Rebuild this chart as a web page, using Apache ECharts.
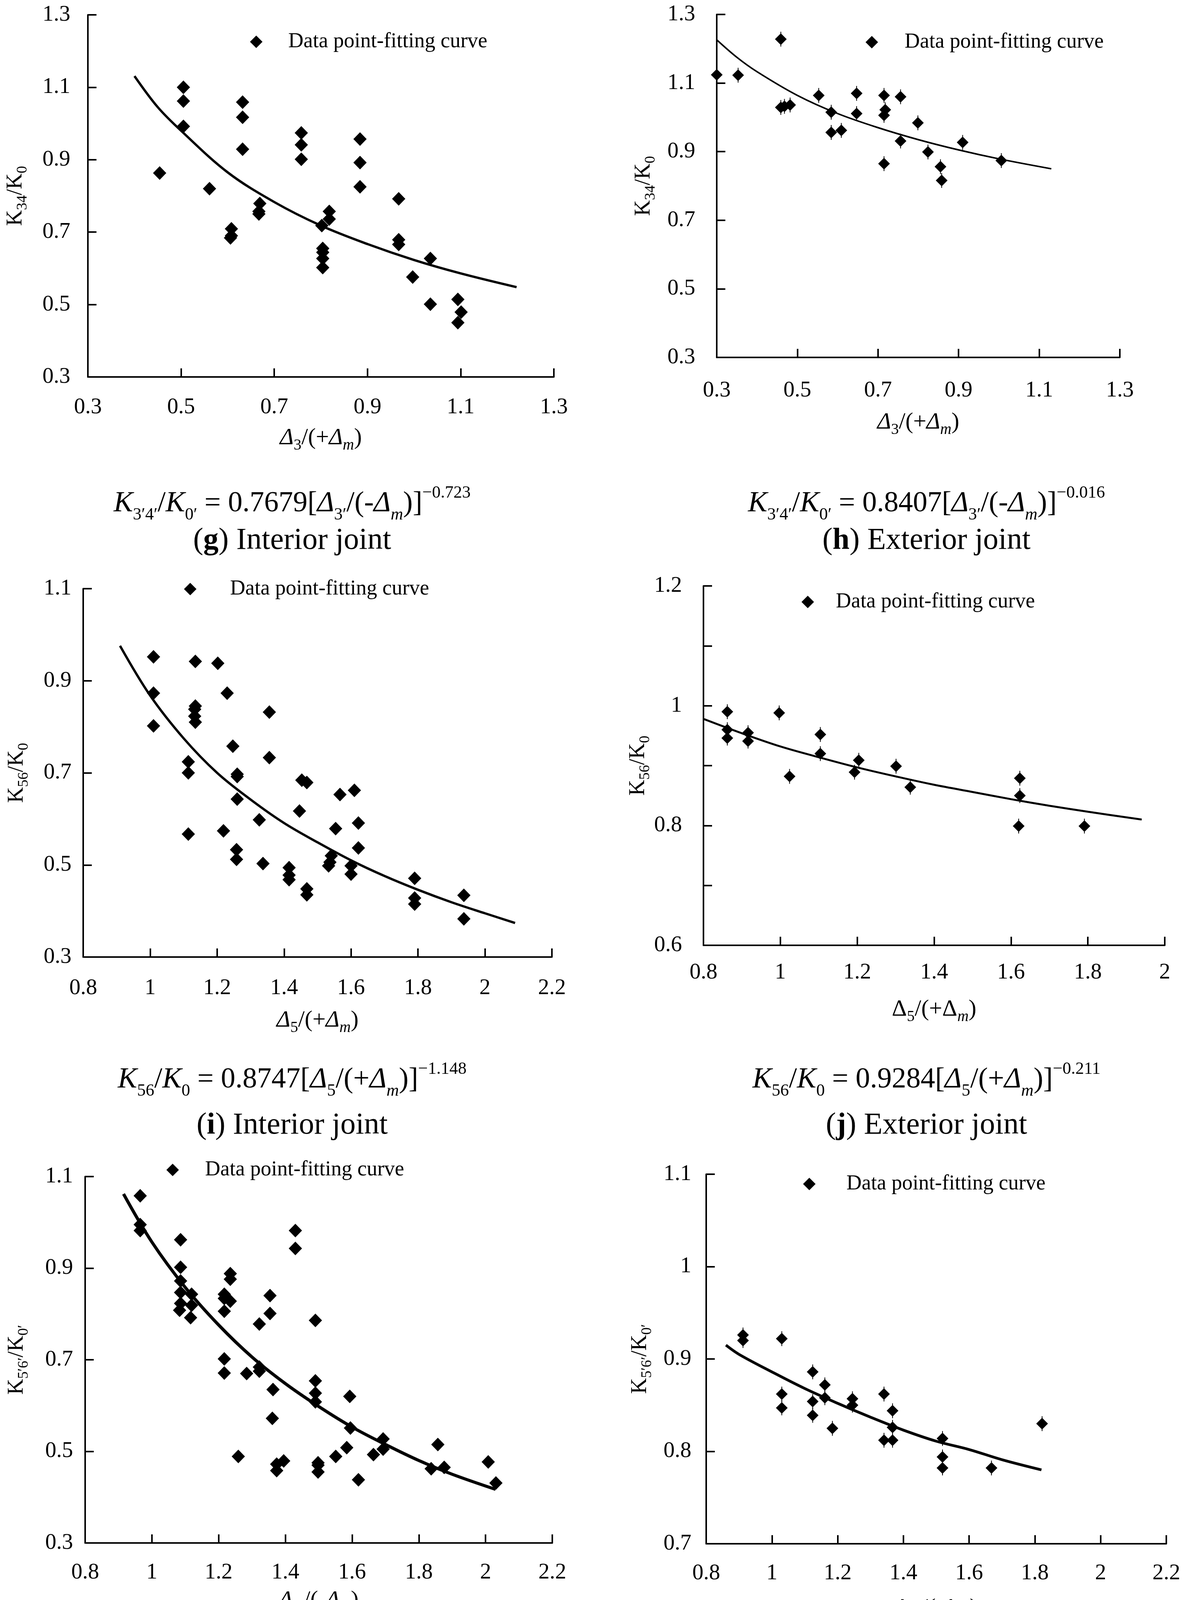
<!DOCTYPE html>
<html>
<head>
<meta charset="utf-8">
<script src="https://cdn.jsdelivr.net/npm/echarts@6/dist/echarts.min.js"></script>
<style>html,body{margin:0;padding:0;background:#fff}#c{width:3062px;height:4468px}</style>
</head>
<body>
<div id="c"></div>
<script>
// ---------- DATA ----------
const LEGEND_NAME = 'Data point-fitting curve';

// (g) Interior joint: K34/K0 vs Δ3/(+Δm)
const gX = [0.454,0.505,0.505,0.505,0.561,0.608,0.608,0.606,0.632,0.632,0.632,0.669,0.667,0.667,0.758,0.758,0.758,0.802,0.804,0.804,0.804,0.804,0.818,0.818,0.884,0.884,0.884,0.967,0.967,0.967,0.997,1.035,1.035,1.094,1.101,1.094];
const gY = [0.863,1.100,1.062,0.992,0.820,0.709,0.690,0.684,1.059,1.017,0.929,0.779,0.757,0.750,0.974,0.941,0.901,0.718,0.655,0.644,0.627,0.602,0.757,0.736,0.957,0.892,0.825,0.792,0.679,0.666,0.576,0.627,0.501,0.514,0.479,0.450];
const gCurveX = [0.40,0.45,0.50,0.60,0.70,0.80,0.90,1.00,1.10,1.22];
const gCurveY = [1.131,1.045,0.980,0.865,0.783,0.718,0.667,0.623,0.586,0.548];
const gXTicks = [0.3,0.5,0.7,0.9,1.1,1.3];
const gYTicks = [0.3,0.5,0.7,0.9,1.1,1.3];

// (h) Exterior joint
const hX = [0.300,0.353,0.459,0.459,0.468,0.482,0.553,0.584,0.584,0.609,0.647,0.647,0.715,0.718,0.715,0.715,0.756,0.756,0.799,0.824,0.855,0.858,0.910,1.006];
const hY = [1.124,1.123,1.228,1.029,1.032,1.036,1.064,1.015,0.956,0.962,1.070,1.011,1.064,1.022,1.006,0.865,1.060,0.931,0.984,0.899,0.856,0.816,0.927,0.874];
const hCurveX = [0.30,0.35,0.40,0.50,0.60,0.70,0.80,0.90,1.00,1.13];
const hCurveY = [1.226,1.175,1.133,1.064,1.011,0.970,0.935,0.905,0.879,0.850];
const hXTicks = [0.3,0.5,0.7,0.9,1.1,1.3];
const hYTicks = [0.3,0.5,0.7,0.9,1.1,1.3];

// (i) Interior joint: K56/K0 vs Δ5/(+Δm)
const iX = [1.010,1.010,1.010,1.114,1.114,1.114,1.135,1.135,1.133,1.133,1.135,1.202,1.219,1.230,1.247,1.260,1.260,1.260,1.258,1.258,1.326,1.337,1.356,1.356,1.415,1.415,1.415,1.446,1.453,1.468,1.468,1.468,1.533,1.537,1.541,1.554,1.567,1.600,1.600,1.610,1.622,1.622,1.790,1.790,1.790,1.937,1.937];
const iY = [0.952,0.873,0.802,0.724,0.700,0.567,0.942,0.845,0.838,0.823,0.810,0.938,0.574,0.873,0.758,0.697,0.692,0.643,0.533,0.512,0.598,0.503,0.832,0.733,0.494,0.478,0.468,0.617,0.684,0.679,0.448,0.435,0.498,0.506,0.520,0.579,0.653,0.498,0.480,0.662,0.591,0.537,0.471,0.428,0.415,0.434,0.383];
const iCurveX = [0.91,1.00,1.10,1.20,1.30,1.40,1.50,1.60,1.70,1.80,1.90,2.00,2.09];
const iCurveY = [0.976,0.868,0.775,0.700,0.642,0.591,0.549,0.510,0.476,0.446,0.419,0.395,0.374];
const iXTicks = [0.8,1,1.2,1.4,1.6,1.8,2,2.2];
const iYTicks = [0.3,0.5,0.7,0.9,1.1];

// (j) Exterior joint
const jX = [0.862,0.862,0.862,0.916,0.916,0.997,1.024,1.104,1.104,1.193,1.204,1.301,1.338,1.623,1.623,1.620,1.791];
const jY = [0.990,0.960,0.946,0.955,0.941,0.988,0.882,0.952,0.920,0.889,0.909,0.899,0.864,0.879,0.850,0.799,0.799];
const jCurveX = [0.80,0.90,1.00,1.10,1.20,1.30,1.40,1.50,1.60,1.70,1.80,1.94];
const jCurveY = [0.978,0.954,0.932,0.914,0.897,0.882,0.868,0.856,0.844,0.833,0.823,0.810];
const jXTicks = [0.8,1,1.2,1.4,1.6,1.8,2];
const jYTicks = [0.6,0.7,0.8,0.9,1,1.1,1.2];
const jYLabels = ['0.6','','0.8','','1','','1.2'];

// (k) Interior joint: K5'6'/K0' vs Δ5'/(-Δm)
const kX = [0.965,0.965,0.965,1.086,1.086,1.086,1.086,1.086,1.083,1.119,1.119,1.116,1.217,1.217,1.217,1.235,1.235,1.235,1.217,1.217,1.259,1.284,1.322,1.322,1.322,1.354,1.354,1.363,1.361,1.374,1.374,1.395,1.430,1.430,1.490,1.490,1.490,1.490,1.498,1.498,1.498,1.551,1.593,1.595,1.584,1.619,1.664,1.693,1.693,1.837,1.857,1.876,2.008,2.031];
const kY = [1.058,0.995,0.982,0.962,0.902,0.872,0.847,0.823,0.808,0.843,0.819,0.792,0.843,0.834,0.806,0.888,0.876,0.828,0.702,0.671,0.489,0.670,0.778,0.684,0.675,0.840,0.801,0.635,0.572,0.472,0.458,0.479,0.982,0.943,0.786,0.654,0.627,0.608,0.475,0.470,0.455,0.489,0.620,0.551,0.508,0.438,0.493,0.527,0.505,0.462,0.515,0.465,0.477,0.431];
const kCurveX = [0.915,1.00,1.10,1.20,1.30,1.40,1.50,1.60,1.70,1.80,1.90,2.03];
const kCurveY = [1.062,0.957,0.858,0.776,0.706,0.648,0.598,0.553,0.515,0.480,0.450,0.417];
const kXTicks = [0.8,1,1.2,1.4,1.6,1.8,2,2.2];
const kYTicks = [0.3,0.5,0.7,0.9,1.1];

// (l) Exterior joint
const lX = [0.912,0.912,1.030,1.030,1.030,1.124,1.124,1.124,1.161,1.161,1.184,1.245,1.245,1.341,1.341,1.367,1.367,1.367,1.519,1.519,1.519,1.668,1.822];
const lY = [0.926,0.920,0.922,0.862,0.847,0.886,0.854,0.839,0.872,0.858,0.825,0.857,0.850,0.862,0.812,0.844,0.826,0.812,0.814,0.794,0.782,0.782,0.830];
const lCurveX = [0.86,0.90,1.00,1.10,1.20,1.30,1.40,1.50,1.60,1.70,1.82];
const lCurveY = [0.915,0.905,0.886,0.868,0.852,0.837,0.823,0.811,0.802,0.791,0.780];
const lXTicks = [0.8,1,1.2,1.4,1.6,1.8,2,2.2];
const lYTicks = [0.7,0.8,0.9,1,1.1];

// captions (text)
const captionFormulas = {
  g: '{i|K}{s|3′4′}{n|/}{i|K}{s|0′}{n| = 0.7679[}{i|Δ}{s|3′}{n|/(-}{i|Δ}{si|m}{n|)]}{p|−0.723}',
  h: '{i|K}{s|3′4′}{n|/}{i|K}{s|0′}{n| = 0.8407[}{i|Δ}{s|3′}{n|/(-}{i|Δ}{si|m}{n|)]}{p|−0.016}',
  i: '{i|K}{s|56}{n|/}{i|K}{s|0}{n| = 0.8747[}{i|Δ}{s|5}{n|/(+}{i|Δ}{si|m}{n|)]}{p|−1.148}',
  j: '{i|K}{s|56}{n|/}{i|K}{s|0}{n| = 0.9284[}{i|Δ}{s|5}{n|/(+}{i|Δ}{si|m}{n|)]}{p|−0.211}',
  k: '{i|K}{s|5′6′}{n|/}{i|K}{s|0′}{n| = 0.9567[}{i|Δ}{s|5′}{n|/(-}{i|Δ}{si|m}{n|)]}{p|−1.178}',
  l: '{i|K}{s|5′6′}{n|/}{i|K}{s|0′}{n| = 0.8846[}{i|Δ}{s|5′}{n|/(-}{i|Δ}{si|m}{n|)]}{p|−0.248}'
};
const captionLabels = {
  g: '{n|(}{b|g}{n|) Interior joint}',
  h: '{n|(}{b|h}{n|) Exterior joint}',
  i: '{n|(}{b|i}{n|) Interior joint}',
  j: '{n|(}{b|j}{n|) Exterior joint}',
  k: '{n|(}{b|k}{n|) Interior joint}',
  l: '{n|(}{b|l}{n|) Exterior joint}'
};
const xNames = {
  g: '{d|Δ}{s|3}{n|/(+}{d|Δ}{si|m}{n|)}',
  h: '{d|Δ}{s|3}{n|/(+}{d|Δ}{si|m}{n|)}',
  i: '{d|Δ}{s|5}{n|/(+}{d|Δ}{si|m}{n|)}',
  j: '{n|Δ}{s|5}{n|/(+Δ}{si|m}{n|)}',
  k: '{d|Δ}{s|5′}{n|/(-}{d|Δ}{si|m}{n|)}',
  l: '{n|Δ}{s|5′}{n|/(-Δ}{si|m}{n|)}'
};
const yNames = {
  g: '{n|K}{s|34}{n|/K}{s|0}',
  h: '{n|K}{s|34}{n|/K}{s|0}',
  i: '{n|K}{s|56}{n|/K}{s|0}',
  j: '{n|K}{s|56}{n|/K}{s|0}',
  k: '{n|K}{s|5′6′}{n|/K}{s|0′}',
  l: '{n|K}{s|5′6′}{n|/K}{s|0′}'
};

// ---------- LAYOUT / STYLE ----------
const FONT = '"Liberation Serif","Times New Roman",Times,serif';
const BAR_DIAMOND = 'path://M15,4 L30,19 L15,34 L0,19 Z M14,0 L16,0 L16,38 L14,38 Z';
const layout = {
  g: {left:225, top:38, width:1193, height:927, xm:50, ym:45, xg:117, yg:148, leg:[656,96,82], lw:6, sym:'diamond', ss:[34,35], cap:[748,1290,1385]},
  h: {left:1835, top:37, width:1032, height:878, xm:57, ym:55, xg:127, yg:150, leg:[2232,97,84], lw:4, sym:BAR_DIAMOND, ss:[30,38], cap:[2372,1290,1385]},
  i: {left:213, top:1507, width:1200, height:943, xm:52, ym:30, xg:123, yg:133, leg:[487,1497,102], lw:6, sym:'diamond', ss:[34,35], cap:[748,2765,2882]},
  j: {left:1801, top:1500, width:1181, height:920, xm:42, ym:55, xg:125, yg:120, leg:[2068,1530,72], lw:5, sym:BAR_DIAMOND, ss:[30,38], cap:[2372,2765,2882]},
  k: {left:218, top:3012, width:1196, height:938, xm:48, ym:31, xg:108, yg:138, leg:[442,2984,83], lw:8, sym:'diamond', ss:[34,35], cap:[748,4262,4380]},
  l: {left:1808, top:3006, width:1178, height:946, xm:48, ym:38, xg:126, yg:132, leg:[2072,3020,95], lw:7, sym:BAR_DIAMOND, ss:[30,38], cap:[2372,4262,4380]}
};

const panels = [
  {key:'g', x:gX, y:gY, cx:gCurveX, cy:gCurveY, xt:gXTicks, yt:gYTicks},
  {key:'h', x:hX, y:hY, cx:hCurveX, cy:hCurveY, xt:hXTicks, yt:hYTicks},
  {key:'i', x:iX, y:iY, cx:iCurveX, cy:iCurveY, xt:iXTicks, yt:iYTicks},
  {key:'j', x:jX, y:jY, cx:jCurveX, cy:jCurveY, xt:jXTicks, yt:jYTicks, yl:jYLabels},
  {key:'k', x:kX, y:kY, cx:kCurveX, cy:kCurveY, xt:kXTicks, yt:kYTicks},
  {key:'l', x:lX, y:lY, cx:lCurveX, cy:lCurveY, xt:lXTicks, yt:lYTicks}
];

function zip(a, b) { return a.map((v, i) => [v, b[i]]); }
function tickFormatter(ticks, labels) {
  return function (v) {
    const idx = ticks.findIndex(t => Math.abs(t - v) < 1e-6);
    if (idx < 0) return '';
    return labels ? labels[idx] : String(ticks[idx]);
  };
}
const axisLineStyle = {color:'#000', width:4};
function nameRich(main, sub) {
  return {
    n: {fontFamily:FONT, fontSize:main, color:'#000', lineHeight:Math.round(main*1.3)},
    d: {fontFamily:FONT, fontSize:main, fontStyle:'italic', color:'#000', lineHeight:Math.round(main*1.3)},
    s: {fontFamily:FONT, fontSize:sub, color:'#000', verticalAlign:'bottom'},
    si: {fontFamily:FONT, fontSize:sub, fontStyle:'italic', color:'#000', verticalAlign:'bottom'}
  };
}

const option = {
  animation: false,
  backgroundColor: '#fff',
  grid: [], xAxis: [], yAxis: [], series: [], legend: [], graphic: []
};

panels.forEach((P, idx) => {
  const L = layout[P.key];
  option.grid.push({left:L.left, top:L.top, width:L.width, height:L.height, containLabel:false});
  option.xAxis.push({
    type:'value', gridIndex:idx,
    min:P.xt[0], max:P.xt[P.xt.length-1], interval:+(P.xt[1]-P.xt[0]).toFixed(4),
    axisLine:{show:true, onZero:false, lineStyle:axisLineStyle},
    axisTick:{show:true, inside:true, length:22, lineStyle:axisLineStyle},
    splitLine:{show:false},
    axisLabel:{show:true, margin:L.xm, fontFamily:FONT, fontSize:57, color:'#000', showMinLabel:true, showMaxLabel:true, formatter:tickFormatter(P.xt)},
    name:xNames[P.key], nameLocation:'middle', nameGap:L.xg,
    nameTextStyle:{fontFamily:FONT, fontSize:60, color:'#000', rich:nameRich(60, 40)}
  });
  option.yAxis.push({
    type:'value', gridIndex:idx,
    min:P.yt[0], max:P.yt[P.yt.length-1], interval:+(P.yt[1]-P.yt[0]).toFixed(4),
    axisLine:{show:true, onZero:false, lineStyle:axisLineStyle},
    axisTick:{show:true, inside:true, length:22, lineStyle:axisLineStyle},
    splitLine:{show:false},
    axisLabel:{show:true, margin:L.ym, fontFamily:FONT, fontSize:57, color:'#000', showMinLabel:true, showMaxLabel:true, formatter:tickFormatter(P.yt, P.yl)},
    name:yNames[P.key], nameLocation:'middle', nameGap:L.yg, nameRotate:90,
    nameTextStyle:{fontFamily:FONT, fontSize:56, color:'#000', rich:nameRich(56, 38)}
  });
  option.series.push({
    type:'scatter', name:LEGEND_NAME, xAxisIndex:idx, yAxisIndex:idx,
    data:zip(P.x, P.y), symbol:L.sym, symbolSize:L.ss,
    itemStyle:{color:'#000', opacity:1}, clip:false, z:3, silent:true
  });
  option.series.push({
    type:'line', name:'fit_' + P.key, xAxisIndex:idx, yAxisIndex:idx,
    data:zip(P.cx, P.cy), smooth:0.35, showSymbol:false, symbol:'none',
    lineStyle:{color:'#000', width:L.lw, opacity:1}, itemStyle:{color:'#000'}, z:2, silent:true
  });
  option.legend.push({
    left:L.leg[0] - 16, top:L.leg[1] - 16, padding:0,
    itemWidth:32, itemHeight:32, icon:'diamond', selectedMode:false,
    data:[LEGEND_NAME],
    itemStyle:{color:'#000', opacity:1},
    textStyle:{fontFamily:FONT, fontSize:54, color:'#000', padding:[0,0,0,L.leg[2]-21]}
  });
  const capRich = {
    n: {fontFamily:FONT, fontSize:74, color:'#000', lineHeight:100},
    i: {fontFamily:FONT, fontSize:74, fontStyle:'italic', color:'#000', lineHeight:100},
    b: {fontFamily:FONT, fontSize:74, fontWeight:'bold', color:'#000', lineHeight:100},
    s: {fontFamily:FONT, fontSize:44, color:'#000', verticalAlign:'bottom'},
    si: {fontFamily:FONT, fontSize:44, fontStyle:'italic', color:'#000', verticalAlign:'bottom'},
    p: {fontFamily:FONT, fontSize:44, color:'#000', verticalAlign:'top'}
  };
  const labRich = {
    n: {fontFamily:FONT, fontSize:78, color:'#000', lineHeight:94},
    b: {fontFamily:FONT, fontSize:78, fontWeight:'bold', color:'#000', lineHeight:94}
  };
  option.graphic.push({
    type:'text', x:L.cap[0], y:L.cap[1], silent:true,
    style:{text:captionFormulas[P.key], rich:capRich, align:'center', verticalAlign:'middle', fill:'#000', fontFamily:FONT, fontSize:74}
  });
  option.graphic.push({
    type:'text', x:L.cap[0], y:L.cap[2], silent:true,
    style:{text:captionLabels[P.key], rich:labRich, align:'center', verticalAlign:'middle', fill:'#000', fontFamily:FONT, fontSize:78}
  });
});

const chart = echarts.init(document.getElementById('c'), null, {renderer:'canvas'});
chart.setOption(option);
</script>
</body>
</html>
